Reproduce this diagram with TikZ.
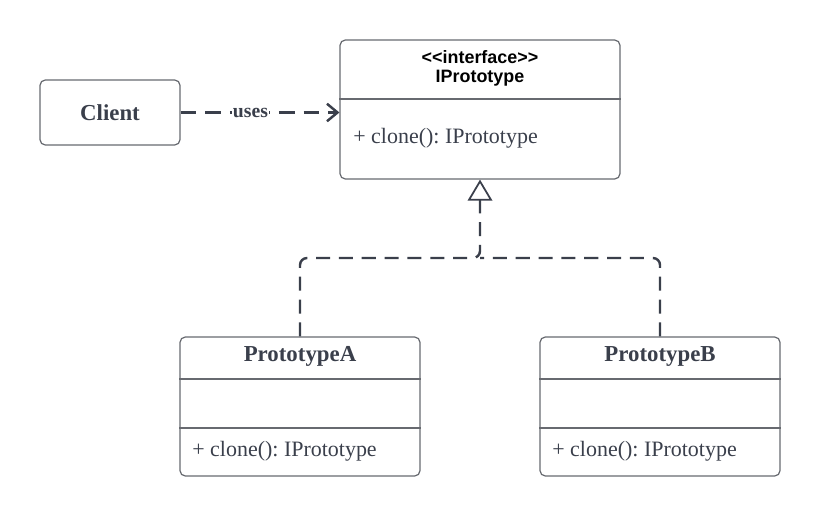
\documentclass[tikz,border=0pt]{standalone}
\usepackage{fontspec}
\setmainfont{Liberation Serif}
\setsansfont{Liberation Sans}
\usetikzlibrary{arrows.meta}
\definecolor{ink}{HTML}{3A3F4B}
\definecolor{frame}{HTML}{676A70}
\frenchspacing
\tikzset{
  classbox/.style={draw=frame, line width=0.7pt, rounded corners=3pt, inner sep=0pt},
  divider/.style={draw=frame, line width=0.7pt},
  title/.style={text=ink, font=\bfseries\fontsize{13}{15}\selectfont},
  stereo/.style={text=black, inner sep=0pt, font=\sffamily\bfseries\fontsize{10.2}{12}\selectfont},
  member/.style={text=ink, inner sep=0pt, anchor=west, font=\fontsize{12.5}{14}\selectfont},
  uses/.style={draw=ink, line width=1.6pt, dash pattern=on 9pt off 5pt, -{Straight Barb[length=6pt,width=10pt,line width=1.4pt]}},
  realize/.style={draw=ink, line width=1.4pt, dash pattern=on 8pt off 5pt, rounded corners=4pt},
}
\begin{document}
\begin{tikzpicture}[x=0.02cm, y=-0.02cm]
     \useasboundingbox (0,0) rectangle (820,517);
     % classes
     \node[classbox, minimum width=2.8cm, minimum height=1.3cm, title] (client) at (110,112.5) {Client};
     \node[classbox, minimum width=5.6cm, minimum height=2.78cm] (ip) at (480,109.5) {};
     \node[classbox, minimum width=4.8cm, minimum height=2.78cm] (pa) at (300,406.5) {};
     \node[classbox, minimum width=4.8cm, minimum height=2.78cm] (pb) at (660,406.5) {};
     % interface
     \node[stereo] (ipstereo) at (480,57) {\textless\kern0pt\textless interface\textgreater\kern0pt\textgreater};
     \node[stereo] (ipname) at (480,78) {IPrototype};
     \draw[divider] (ip.west |- 0,99) -- (ip.east |- 0,99);
     \node[member] (ipclone) at (353,138) {+ clone(): IPrototype};
     % prototype a
     \node[title] (paname) at (300,356) {PrototypeA};
     \draw[divider] (pa.west |- 0,379) -- (pa.east |- 0,379);
     \draw[divider] (pa.west |- 0,428) -- (pa.east |- 0,428);
     \node[member] (paclone) at (192,451) {+ clone(): IPrototype};
     % prototype b
     \node[title] (pbname) at (660,356) {PrototypeB};
     \draw[divider] (pb.west |- 0,379) -- (pb.east |- 0,379);
     \draw[divider] (pb.west |- 0,428) -- (pb.east |- 0,428);
     \node[member] (pbclone) at (552,451) {+ clone(): IPrototype};
     % connectors
     \draw[uses] (client.east) -- node[pos=0.44, fill=white, inner sep=0.5pt, text=ink, font=\bfseries\fontsize{11.2}{13}\selectfont] (useslabel) {uses} (client.east -| ip.west);
     \coordinate (j) at (480,258);
     \draw[realize] (pb.north) |- (j);
     \draw[realize, -{Triangle[length=12pt,width=14pt,fill=white,line width=1pt]}] (pa.north) |- (j) -- (ip.south);
\end{tikzpicture}
\end{document}
